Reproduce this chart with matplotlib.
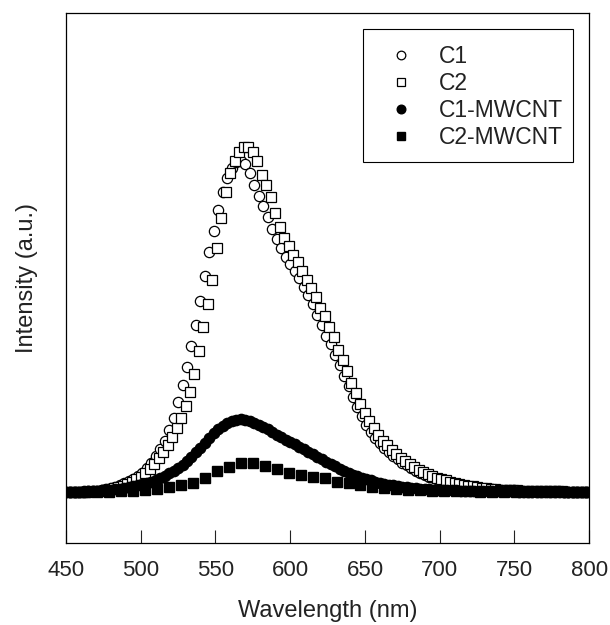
import matplotlib
matplotlib.use("Agg")
import matplotlib.pyplot as plt
import numpy as np

plt.rcParams['font.family'] = ['Liberation Sans', 'DejaVu Sans']

# C1 (open circles), sampled every 3 nm from 450 nm
c1 = [0.3, 0.3, 0.3, 0.4, 0.4, 0.5, 0.6, 0.7, 0.9, 1.1,
      1.4, 1.8, 2.2, 2.8, 3.4, 4.1, 4.9, 5.8, 7.1, 8.7,
      10.5, 12.5, 15, 18, 21.5, 26, 31, 36, 42, 48,
      55, 62, 69, 75, 81, 86, 90, 93, 94.5, 95,
      94, 91.5, 88, 85, 82, 79, 75.5, 72.5, 70, 67.5,
      65.5, 63.5, 61.5, 59, 56.5, 54, 51, 48, 45, 42.5,
      39.5, 36.5, 33.5, 30.5, 27.5, 24.5, 22, 19.5, 17.5, 15.7,
      14.2, 12.9, 11.7, 10.6, 9.6, 8.7, 7.9, 7.1, 6.4, 5.8,
      5.2, 4.7, 4.2, 3.8, 3.4, 3.1, 2.8, 2.5, 2.2, 2.0,
      1.8, 1.6, 1.5, 1.3, 1.2, 1.1, 1.0, 0.9, 0.85, 0.8,
      0.75, 0.7, 0.65, 0.6, 0.6, 0.55, 0.5, 0.5, 0.5, 0.45,
      0.45, 0.4, 0.4, 0.4, 0.4, 0.35, 0.35]

# C2 (open squares), sampled every 3 nm from 452 nm
c2 = [0.3, 0.3, 0.3, 0.4, 0.4, 0.5, 0.6, 0.7, 0.9, 1.1,
      1.4, 1.7, 2.1, 2.6, 3.2, 3.9, 4.7, 5.7, 6.9, 8.3,
      9.9, 11.7, 13.8, 16, 18.5, 21.5, 25, 29, 34, 40.5,
      47.5, 54, 61, 70, 78.5, 86, 91.5, 95, 97.5, 99,
      99, 97.5, 95, 91, 88, 84.5, 80, 76, 73, 70.5,
      68, 66, 63.5, 61, 58.5, 56, 53, 50.5, 47.5, 44.5,
      41, 38, 35, 31.5, 28.5, 25.5, 23, 20.5, 18.5, 16.7,
      15, 13.6, 12.3, 11.1, 10, 9.1, 8.2, 7.4, 6.7, 6.0,
      5.4, 4.9, 4.4, 4.0, 3.6, 3.2, 2.9, 2.6, 2.3, 2.1,
      1.9, 1.7, 1.5, 1.4, 1.2, 1.1, 1.0, 0.9, 0.85, 0.8,
      0.75, 0.7, 0.65, 0.6, 0.6, 0.55, 0.5, 0.5, 0.5, 0.45,
      0.45, 0.4, 0.4, 0.4, 0.4, 0.35, 0.35]

# C1-MWCNT (filled circles), every 3 nm from 450 nm
c1_mwcnt = [0.3, 0.3, 0.35, 0.4, 0.45, 0.5, 0.6, 0.7, 0.8, 0.9,
            1.0, 1.15, 1.3, 1.5, 1.7, 1.9, 2.2, 2.5, 2.9, 3.3,
            3.8, 4.3, 4.9, 5.6, 6.4, 7.2, 8.1, 9.1, 10.3, 11.6,
            13, 14.4, 15.8, 17.1, 18.3, 19.2, 20, 20.6, 21, 21.1,
            21, 20.6, 20.1, 19.5, 18.9, 18.2, 17.4, 16.7, 16, 15.3,
            14.6, 13.9, 13.2, 12.5, 11.8, 11.1, 10.4, 9.7, 9.0, 8.3,
            7.6, 7.0, 6.4, 5.8, 5.3, 4.8, 4.4, 4.0, 3.6, 3.3,
            3.0, 2.7, 2.4, 2.2, 2.0, 1.8, 1.7, 1.5, 1.4, 1.3,
            1.2, 1.1, 1.0, 0.95, 0.9, 0.85, 0.8, 0.75, 0.7, 0.65,
            0.6, 0.6, 0.55, 0.55, 0.5, 0.5, 0.5, 0.45, 0.45, 0.45,
            0.45, 0.4, 0.4, 0.4, 0.4, 0.4, 0.4, 0.35, 0.35, 0.35,
            0.35, 0.35, 0.35, 0.35, 0.35, 0.35, 0.35]

# C2-MWCNT (filled squares), every 8 nm from 455 nm
c2_mwcnt = [0.2, 0.25, 0.3, 0.4, 0.5, 0.7, 0.9, 1.2, 1.6, 2.2,
            3.0, 4.4, 6.2, 7.4, 8.5, 8.6, 7.8, 6.8, 5.8, 5.1,
            4.6, 4.2, 3.3, 2.9, 2.3, 1.8, 1.4, 1.1, 0.9, 0.75,
            0.65, 0.55, 0.5, 0.45, 0.4, 0.4, 0.35, 0.35, 0.35, 0.3,
            0.3, 0.3, 0.3, 0.3]

x_c1 = 450 + 3 * np.arange(len(c1))
x_c2 = 452 + 3 * np.arange(len(c2))
x_c1m = 450 + 3 * np.arange(len(c1_mwcnt))
x_c2m = 455 + 8 * np.arange(len(c2_mwcnt))

xticks = [450, 500, 550, 600, 650, 700, 750, 800]

W, H = 610, 625
fig = plt.figure(figsize=(W / 100, H / 100), dpi=100)
ax = fig.add_axes([0.108, 0.131, 0.858, 0.848])

ax.plot(x_c1, c1, 'o', ls='none', mfc='white', mec='black', mew=0.9, ms=7.4, label='C1', zorder=3)
ax.plot(x_c2, c2, 's', ls='none', mfc='white', mec='black', mew=0.9, ms=6.8, label='C2', zorder=4)
ax.plot(x_c1m, c1_mwcnt, 'o', ls='none', mfc='black', mec='black', ms=7.4, label='C1-MWCNT', zorder=5)
ax.plot(x_c2m, c2_mwcnt, 's', ls='none', mfc='black', mec='black', ms=7.0, label='C2-MWCNT', zorder=6)

ax.set_xlim(450, 800)
ax.set_ylim(-14.3, 137.1)
ax.set_xticks(xticks)
ax.set_yticks([])
ax.tick_params(axis='x', direction='in', length=9.5, width=0.8, labelsize=16, pad=12.5, colors='#222222')
for sp in ax.spines.values():
    sp.set_linewidth(0.9)

ax.set_xlabel('Wavelength (nm)', fontsize=17, color='#222222', labelpad=13)
ax.set_ylabel('Intensity (a.u.)', fontsize=17, color='#222222', labelpad=20)

# legend entries without frame, frame drawn as a separate box
leg = ax.legend(loc='upper left', bbox_to_anchor=(382 / W, 1 - 45 / H),
                bbox_transform=fig.transFigure, fontsize=16.5, frameon=False,
                borderpad=0, handletextpad=0.8, labelspacing=0.18,
                handlelength=1.7, borderaxespad=0)
for h in leg.legend_handles:
    h.set_markersize(6.2)
for t in leg.get_texts():
    t.set_color('#222222')

frame = plt.Rectangle((363 / W, 1 - 162 / H), 210 / W, 133 / H, transform=fig.transFigure,
                      fill=False, edgecolor='black', linewidth=0.8, zorder=10)
fig.add_artist(frame)

fig.savefig('out.png', dpi=100)
